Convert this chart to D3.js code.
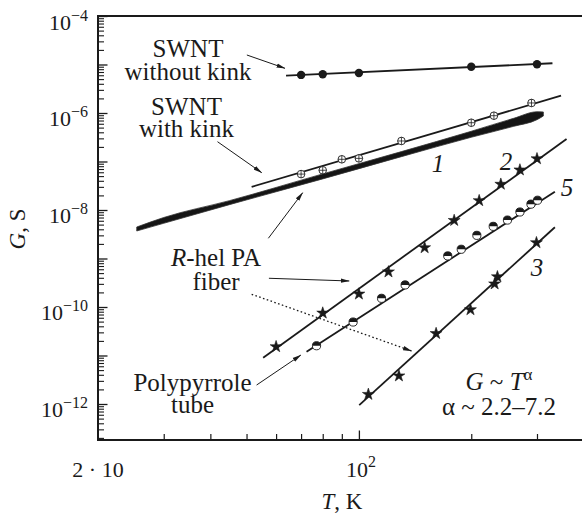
<!DOCTYPE html>
<html>
<head>
<meta charset="utf-8">
<script src="https://cdn.jsdelivr.net/npm/d3@7"></script>
<style>
  html, body { margin: 0; padding: 0; background: #fff; }
  svg { display: block; }
  text { font-family: "Liberation Serif", "Times New Roman", serif; fill: #1a1a1a; }
</style>
</head>
<body>
<svg id="chart" width="582" height="514"></svg>
<script>
// ---- Conductance G (S) versus temperature T (K) ----

// SWNT without kink: filled circles and fit line
const noKinkT = [70, 80, 100, 200, 300];
const noKinkG = [6.1e-6, 6.3e-6, 6.7e-6, 9.0e-6, 1.01e-5];
const noKinkFitT = [63.8, 330];
const noKinkFitG = [5.9e-6, 1.06e-5];

// SWNT with kink: crossed circles and fit line
const kinkT = [70, 80, 90, 100, 130, 200, 230, 290];
const kinkG = [5.5e-8, 6.6e-8, 1.11e-7, 1.16e-7, 2.65e-7, 6.3e-7, 8.8e-7, 1.61e-6];
const kinkFitT = [51.6, 348];
const kinkFitG = [3.0e-8, 2.27e-6];

// Curve 1: R-hel PA fiber, continuous trace (lower / upper edge)
const fiberT = [25.4, 30, 45, 80, 130, 200, 260, 300, 312];
const fiberGLow = [3.69e-9, 5.32e-9, 1.29e-8, 4.38e-8, 1.26e-7, 3.16e-7, 5.32e-7, 7.28e-7, 8.67e-7];
const fiberGHigh = [4.46e-9, 7.0e-9, 1.56e-8, 5.55e-8, 1.60e-7, 4.20e-7, 7.78e-7, 1.06e-6, 1.05e-6];

// Curve 2: stars and fit line
const c2T = [60, 80, 100, 120, 150, 180, 210, 240, 270, 300];
const c2G = [1.52e-11, 7.5e-11, 1.85e-10, 5.3e-10, 1.67e-9, 6.1e-9, 1.56e-8, 3.4e-8, 6.7e-8, 1.14e-7];
const c2FitT = [55.4, 360];
const c2FitG = [9.0e-12, 2.9e-7];

// Curve 5: half-filled circles and fit line
const c5T = [77, 96.5, 115, 133, 173, 188, 207, 229, 250, 270, 289, 301];
const c5G = [1.59e-11, 4.9e-11, 1.51e-10, 2.85e-10, 1.13e-9, 1.55e-9, 3.0e-9, 4.6e-9, 6.2e-9, 9.1e-9, 1.32e-8, 1.59e-8];
const c5FitT = [72.4, 335];
const c5FitG = [1.2e-11, 2.38e-8];

// Curve 3: stars and fit line
const c3T = [106, 128, 161, 199, 231, 235, 299];
const c3G = [1.58e-12, 3.8e-12, 2.84e-11, 8.8e-11, 3.0e-10, 4.2e-10, 2.12e-9];
const c3FitT = [100.2, 335];
const c3FitG = [9.5e-13, 4.4e-9];

// Axis ticks and labels
const xMinorTicks = [30, 40, 50, 60, 70, 80, 90, 200, 300];
const xMajorTicks = [100];
const yLabelExponents = [-4, -6, -8, -10, -12];

const ink = "#1a1a1a";
const svg = d3.select("#chart");

const x = d3.scaleLog().domain([20, 396]).range([98, 582]);
const y = d3.scaleLog().domain([1e-4, 1.81e-13]).range([16, 440]);

const zip = (T, G) => T.map((t, i) => ({ T: t, G: G[i] }));

// ---- arrow marker ----
const defs = svg.append("defs");
defs.append("marker")
  .attr("id", "head")
  .attr("viewBox", "0 -3 9 6")
  .attr("refX", 8.5).attr("refY", 0)
  .attr("markerUnits", "userSpaceOnUse")
  .attr("markerWidth", 9).attr("markerHeight", 6)
  .attr("orient", "auto")
  .append("path").attr("d", "M0,-2.2L9,0L0,2.2Z").attr("fill", ink);

// ---- ticks ----
const decades = d3.range(-13, -3).map(k => Math.pow(10, k));
const yMajor = decades.filter(v => v >= y.domain()[1] && v <= 1e-4);
const yMinor = [];
decades.forEach(d => { for (let m = 2; m <= 9; m++) { const v = m * d; if (v > y.domain()[1] && v < 1e-4) yMinor.push(v); } });

svg.append("g").attr("transform", "translate(98,0)")
  .call(d3.axisLeft(y).tickValues(yMinor).tickSize(-6).tickFormat(""))
  .call(g => g.select(".domain").remove())
  .call(g => g.selectAll("line").attr("stroke", ink).attr("stroke-width", 1.1));
svg.append("g").attr("transform", "translate(98,0)")
  .call(d3.axisLeft(y).tickValues(yMajor).tickSize(-9.5).tickFormat(""))
  .call(g => g.select(".domain").remove())
  .call(g => g.selectAll("line").attr("stroke", ink).attr("stroke-width", 1.3));
svg.append("g").attr("transform", "translate(0,440)")
  .call(d3.axisBottom(x).tickValues(xMinorTicks).tickSize(-6).tickFormat(""))
  .call(g => g.select(".domain").remove())
  .call(g => g.selectAll("line").attr("stroke", ink).attr("stroke-width", 1.2));
svg.append("g").attr("transform", "translate(0,440)")
  .call(d3.axisBottom(x).tickValues(xMajorTicks).tickSize(-9.5).tickFormat(""))
  .call(g => g.select(".domain").remove())
  .call(g => g.selectAll("line").attr("stroke", ink).attr("stroke-width", 1.3));

// ---- frame (left, top, bottom) ----
svg.append("path")
  .attr("d", `M582,${y(1e-4)}H${x(20)}V${y.range()[1]}H582`)
  .attr("fill", "none").attr("stroke", ink).attr("stroke-width", 2);

// ---- tick labels ----
const yl = svg.append("g");
yLabelExponents.forEach(e => {
  const t = yl.append("text").attr("x", 88).attr("y", y(Math.pow(10, e)) + 13.5)
    .attr("text-anchor", "end").attr("font-size", 22);
  t.append("tspan").text("10");
  t.append("tspan").attr("font-size", 16).attr("dy", -9).text("\u2212" + Math.abs(e));
});
svg.append("text").attr("x", x(20)).attr("y", 476.5).attr("text-anchor", "middle")
  .attr("font-size", 22).text("2 \u00b7 10");
{
  const t = svg.append("text").attr("x", x(100) + 2).attr("y", 476.5).attr("text-anchor", "middle").attr("font-size", 22);
  t.append("tspan").text("10");
  t.append("tspan").attr("font-size", 16).attr("dy", -10).text("2");
}

// ---- axis titles ----
{
  const t = svg.append("text").attr("transform", "translate(25,229) rotate(-90)")
    .attr("text-anchor", "middle").attr("font-size", 23);
  t.append("tspan").attr("font-style", "italic").text("G");
  t.append("tspan").text(", S");
}
{
  const t = svg.append("text").attr("x", 342).attr("y", 509).attr("text-anchor", "middle").attr("font-size", 23);
  t.append("tspan").attr("font-style", "italic").text("T");
  t.append("tspan").text(", K");
}

// ---- curve 1 trace ----
const fiber = fiberT.map((t, i) => ({ T: t, lo: fiberGLow[i], hi: fiberGHigh[i] }));
svg.append("path").datum(fiber)
  .attr("d", d3.area().x(d => x(d.T)).y0(d => y(d.lo)).y1(d => y(d.hi)).curve(d3.curveMonotoneX))
  .attr("fill", "#151515").attr("stroke", "#333").attr("stroke-width", 0.8).attr("stroke-linejoin", "round");

// ---- fit lines ----
const line = d3.line().x(d => x(d.T)).y(d => y(d.G));
[[noKinkFitT, noKinkFitG], [kinkFitT, kinkFitG], [c2FitT, c2FitG], [c5FitT, c5FitG], [c3FitT, c3FitG]]
  .forEach(([T, G]) => {
    svg.append("path").datum(zip(T, G)).attr("d", line)
      .attr("fill", "none").attr("stroke", ink).attr("stroke-width", 1.8);
  });

// ---- markers ----
svg.append("g").selectAll("circle").data(zip(noKinkT, noKinkG)).join("circle")
  .attr("cx", d => x(d.T)).attr("cy", d => y(d.G)).attr("r", 4.2).attr("fill", ink);

const kinkMarks = svg.append("g").selectAll("g").data(zip(kinkT, kinkG)).join("g")
  .attr("transform", d => `translate(${x(d.T)},${y(d.G)})`);
kinkMarks.append("circle").attr("r", 3.8).attr("fill", "#fff").attr("stroke", ink).attr("stroke-width", 0.9);
kinkMarks.append("path").attr("d", "M-3.8,0H3.8M0,-3.8V3.8").attr("stroke", ink).attr("stroke-width", 0.8);

const star = d3.symbol().type(d3.symbolStar).size(44);
[[c2T, c2G], [c3T, c3G]].forEach(([T, G]) => {
  svg.append("g").selectAll("path").data(zip(T, G)).join("path")
    .attr("transform", d => `translate(${x(d.T)},${y(d.G)})`)
    .attr("d", star).attr("fill", ink).attr("stroke", ink).attr("stroke-width", 0.6)
    .attr("stroke-linejoin", "round");
});

const half = svg.append("g").selectAll("g").data(zip(c5T, c5G)).join("g")
  .attr("transform", d => `translate(${x(d.T)},${y(d.G)})`);
half.append("circle").attr("r", 4.1).attr("fill", "#fff").attr("stroke", ink).attr("stroke-width", 0.9);
half.append("path").attr("d", "M-4.1,0A4.1,4.1 0 0 1 4.1,0Z").attr("fill", ink);

// ---- annotation arrows (data coordinates) ----
const arrows = [
  { from: [50.1, 1.57e-5], to: [63.4, 8.35e-6] },
  { from: [41.8, 2.56e-7], to: [54.9, 5.88e-8] },
  { from: [57.2, 2.61e-9], to: [70.7, 2.27e-8] },
  { from: [57.4, 3.91e-10], to: [94.2, 3.44e-10] },
  { from: [51.6, 1.83e-10], to: [138.4, 1.24e-11], dotted: true },
  { from: [53.2, 2.46e-12], to: [69.9, 1.02e-11] }
];
arrows.forEach(a => {
  svg.append("line")
    .attr("x1", x(a.from[0])).attr("y1", y(a.from[1]))
    .attr("x2", x(a.to[0])).attr("y2", y(a.to[1]))
    .attr("stroke", ink).attr("stroke-width", a.dotted ? 1.3 : 1)
    .attr("stroke-dasharray", a.dotted ? "1.6,2.4" : null)
    .attr("marker-end", "url(#head)");
});

// ---- annotation text: each note is one text element, lines stacked with tspans ----
function note(px, py, lines, size = 25, lead = 23) {
  const t = svg.append("text").attr("x", px).attr("y", py).attr("text-anchor", "middle").attr("font-size", size);
  let shift = 0; // baseline offset left by superscripts on the current line
  lines.forEach((parts, li) => {
    parts.forEach((p, pi) => {
      const s = t.append("tspan").text(p.t);
      let dy = 0;
      if (pi === 0) { s.attr("x", px); dy = li === 0 ? 0 : lead - shift; shift = 0; }
      if (p.i) s.attr("font-style", "italic");
      if (p.sup) { s.attr("font-size", size * 0.68); dy += -10; shift += -10; }
      else if (shift !== 0 && pi !== 0) { dy += -shift; shift = 0; }
      if (dy !== 0) s.attr("dy", dy);
    });
  });
  return t;
}
note(188, 57, [[{ t: "SWNT" }], [{ t: "without kink" }]], 25, 23);
note(186.5, 115, [[{ t: "SWNT" }], [{ t: "with kink" }]], 25, 22);
note(216, 266, [[{ t: "R", i: true }, { t: "-hel PA" }], [{ t: "fiber" }]], 25, 24);
note(192.5, 391, [[{ t: "Polypyrrole" }], [{ t: "tube" }]], 25, 22);
note(499, 390, [[{ t: "G", i: true }, { t: " ~ " }, { t: "T", i: true }, { t: "\u03b1", sup: true }], [{ t: "\u03b1 ~ 2.2\u20137.2" }]], 25, 25);
note(438, 172, [[{ t: "1", i: true }]]);
note(506, 170, [[{ t: "2", i: true }]]);
note(567, 196, [[{ t: "5", i: true }]]);
note(537, 276, [[{ t: "3", i: true }]]);
</script>
</body>
</html>
